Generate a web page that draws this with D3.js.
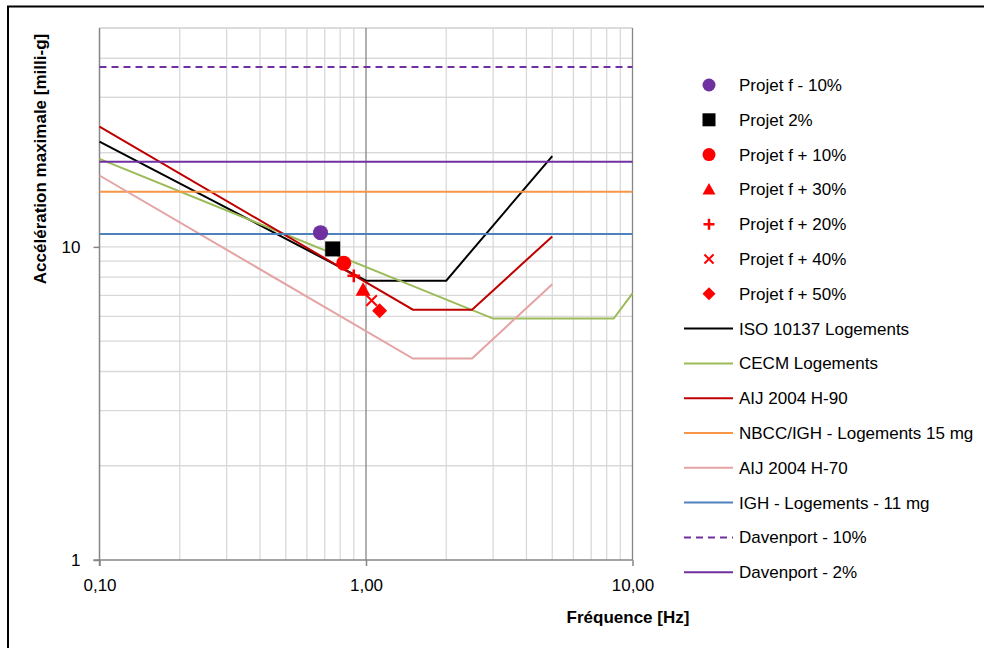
<!DOCTYPE html>
<html>
<head>
<meta charset="utf-8">
<script src="https://cdn.jsdelivr.net/npm/d3@7/dist/d3.min.js"></script>
<style>
  html, body { margin: 0; padding: 0; background: #fff; }
  svg { display: block; font-family: "Liberation Sans", Arial, sans-serif; }
</style>
</head>
<body>
<svg id="chart" width="984" height="648"></svg>
<script>
// Comfort criteria curves (frequency in Hz, peak acceleration in milli-g)
const isoFreq   = [0.1, 1, 2, 5];
const isoAcc    = [21.7, 7.8, 7.8, 19.5];
const cecmFreq  = [0.1, 3, 8.5, 10];
const cecmAcc   = [19.1, 5.9, 5.9, 7.1];
const aij90Freq = [0.1, 1.5, 2.5, 5];
const aij90Acc  = [24.2, 6.3, 6.3, 10.8];
const aij70Freq = [0.1, 1.5, 2.5, 5];
const aij70Acc  = [16.9, 4.4, 4.4, 7.6];

// Constant limits drawn across the whole frequency range
const flatFreq  = [0.1, 10];
const nbccAcc   = 15;
const ighAcc    = 11;
const dav10Acc  = 37.5;
const dav2Acc   = 18.7;

// Project results
const projetLabels = ["Projet f - 10%", "Projet 2%", "Projet f + 10%", "Projet f + 30%",
                      "Projet f + 20%", "Projet f + 40%", "Projet f + 50%"];
const projetFreq   = [0.675, 0.75, 0.825, 0.975, 0.9, 1.05, 1.125];
const projetAcc    = [11.1, 9.85, 8.87, 7.3, 8.08, 6.74, 6.25];
const projetShape  = ["circle", "square", "circle", "triangle", "plus", "x", "diamond"];
const projetColor  = ["#7030a0", "#000000", "#ff0000", "#ff0000", "#ff0000", "#ff0000", "#ff0000"];

// Axis ticks
const xTickValues = [0.1, 1, 10];
const xTickLabels = ["0,10", "1,00", "10,00"];
const yTickValues = [1, 10];
const yTickLabels = ["1", "10"];

const lineSeries = [
  { name: "ISO 10137 Logements", f: isoFreq, a: isoAcc, color: "#000000", dash: null },
  { name: "CECM Logements", f: cecmFreq, a: cecmAcc, color: "#9bbb59", dash: null },
  { name: "AIJ 2004 H-90", f: aij90Freq, a: aij90Acc, color: "#c00000", dash: null },
  { name: "NBCC/IGH - Logements 15 mg", f: flatFreq, a: [nbccAcc, nbccAcc], color: "#f79646", dash: null },
  { name: "AIJ 2004 H-70", f: aij70Freq, a: aij70Acc, color: "#e6a3a3", dash: null },
  { name: "IGH - Logements - 11 mg", f: flatFreq, a: [ighAcc, ighAcc], color: "#4f81bd", dash: null },
  { name: "Davenport - 10%", f: flatFreq, a: [dav10Acc, dav10Acc], color: "#7030a0", dash: "7,5" },
  { name: "Davenport - 2%", f: flatFreq, a: [dav2Acc, dav2Acc], color: "#7030a0", dash: null }
];

const svg = d3.select("#chart");

// Outer chart frame
svg.append("rect")
  .attr("x", 8).attr("y", 6.5).attr("width", 990).attr("height", 660)
  .attr("fill", "none").attr("stroke", "#000").attr("stroke-width", 2);

const x = d3.scaleLog().domain([0.1, 10]).range([99.5, 632.5]);
const y = d3.scaleLog().domain([1, 50]).range([560, 28]);

// Grid lines
const gridX = [];
for (const dec of [0.1, 1]) for (let k = 1; k <= 9; k++) gridX.push(dec * k);
gridX.push(10);
const gridY = [];
for (const dec of [1, 10]) for (let k = 1; k <= 9; k++) gridY.push(dec * k);
gridY.push(50);
gridY.push(20); gridY.push(30); gridY.push(40);

const grid = svg.append("g");
grid.selectAll("line.gy").data(gridY.filter(v => v > 1 && v <= 50)).join("line")
  .attr("x1", x(0.1)).attr("x2", x(10))
  .attr("y1", d => y(d)).attr("y2", d => y(d))
  .attr("stroke", "#d9d9d9").attr("stroke-width", 1.3);
grid.selectAll("line.gx").data(gridX.filter(v => v > 0.1 + 1e-9)).join("line")
  .attr("y1", y(1)).attr("y2", y(50))
  .attr("x1", d => x(d)).attr("x2", d => x(d))
  .attr("stroke", d => (Math.abs(d - 1) < 1e-9 || Math.abs(d - 10) < 1e-9) ? "#868686" : "#d9d9d9")
  .attr("stroke-width", 1.3);

// Axes
const xAxis = d3.axisBottom(x).tickValues(xTickValues)
  .tickFormat((d, i) => xTickLabels[i]).tickSize(6).tickPadding(13);
const yAxis = d3.axisLeft(y).tickValues(yTickValues)
  .tickFormat((d, i) => yTickLabels[i]).tickSize(6).tickPadding(13);

const gx = svg.append("g").attr("transform", `translate(0,${y(1)})`).call(xAxis);
const gy = svg.append("g").attr("transform", `translate(${x(0.1)},0)`).call(yAxis);
for (const g of [gx, gy]) {
  g.select(".domain").attr("stroke", "#868686").attr("stroke-width", 1.5);
  g.selectAll(".tick line").attr("stroke", "#868686").attr("stroke-width", 1.5);
  g.selectAll(".tick text").attr("fill", "#000").style("font-size", "17px")
    .style("font-family", "'Liberation Sans', Arial, sans-serif");
}
gy.select(".domain").attr("d", `M-6,${y(1)}H0V${y(50)}`);
gx.select(".domain").attr("d", `M${x(0.1)},6V0H${x(10)}`);

// Criteria lines
const lineGen = d3.line().x(d => x(d[0])).y(d => y(d[1]));
const linesG = svg.append("g");
lineSeries.forEach(s => {
  linesG.append("path")
    .datum(s.f.map((f, i) => [f, s.a[i]]))
    .attr("d", lineGen)
    .attr("fill", "none")
    .attr("stroke", s.color)
    .attr("stroke-width", 2)
    .attr("stroke-dasharray", s.dash);
});

// Marker drawing
function drawMarker(g, shape, color, cx, cy, size) {
  const h = size / 2;
  if (shape === "circle") {
    g.append("circle").attr("cx", cx).attr("cy", cy).attr("r", h).attr("fill", color);
  } else if (shape === "square") {
    g.append("rect").attr("x", cx - h).attr("y", cy - h).attr("width", size).attr("height", size).attr("fill", color);
  } else if (shape === "triangle") {
    g.append("path").attr("d", `M${cx},${cy - h}L${cx + h},${cy + h * 0.8}L${cx - h},${cy + h * 0.8}Z`).attr("fill", color);
  } else if (shape === "diamond") {
    g.append("path").attr("d", `M${cx},${cy - h}L${cx + h},${cy}L${cx},${cy + h}L${cx - h},${cy}Z`).attr("fill", color);
  } else if (shape === "plus") {
    const p = h * 0.85;
    g.append("path").attr("d", `M${cx - p},${cy}H${cx + p}M${cx},${cy - p}V${cy + p}`)
      .attr("stroke", color).attr("stroke-width", 2.5).attr("fill", "none");
  } else if (shape === "x") {
    const p = h * 0.7;
    g.append("path").attr("d", `M${cx - p},${cy - p}L${cx + p},${cy + p}M${cx + p},${cy - p}L${cx - p},${cy + p}`)
      .attr("stroke", color).attr("stroke-width", 2).attr("fill", "none");
  }
}

const pointsG = svg.append("g");
projetFreq.forEach((f, i) => {
  drawMarker(pointsG, projetShape[i], projetColor[i], x(f), y(projetAcc[i]), 15);
});

// Axis titles
svg.append("text")
  .attr("x", 628).attr("y", 623)
  .attr("text-anchor", "middle")
  .style("font-size", "17px").style("font-weight", "bold")
  .text("Fréquence [Hz]");
svg.append("text")
  .attr("transform", "translate(46,159) rotate(-90)")
  .attr("text-anchor", "middle")
  .style("font-size", "17px").style("font-weight", "bold")
  .text("Accélération maximale [milli-g]");

// Legend
const legend = svg.append("g");
const rowY0 = 85, rowStep = 34.8;
projetLabels.forEach((name, i) => {
  const cy = rowY0 + i * rowStep;
  drawMarker(legend, projetShape[i], projetColor[i], 709, cy, 13);
  legend.append("text").attr("x", 739).attr("y", cy).attr("dy", "0.35em")
    .style("font-size", "17px").text(name);
});
lineSeries.forEach((s, j) => {
  const cy = rowY0 + (projetLabels.length + j) * rowStep;
  legend.append("line").attr("x1", 684).attr("x2", 733).attr("y1", cy).attr("y2", cy)
    .attr("stroke", s.color).attr("stroke-width", 2).attr("stroke-dasharray", s.dash);
  legend.append("text").attr("x", 739).attr("y", cy).attr("dy", "0.35em")
    .style("font-size", "17px").text(s.name);
});
</script>
</body>
</html>
